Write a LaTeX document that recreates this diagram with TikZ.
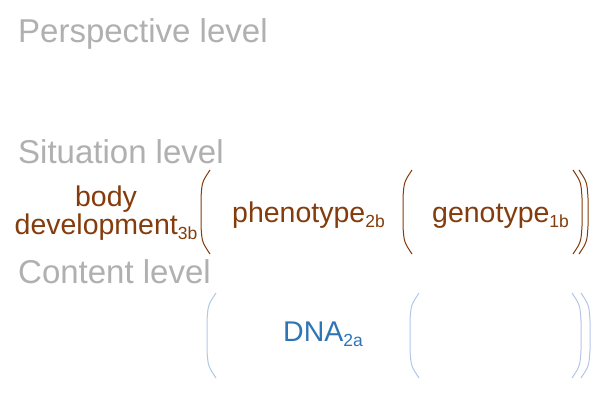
\documentclass[tikz,border=0pt]{standalone}
\usepackage{fontspec}
\setmainfont{Liberation Sans}
\definecolor{lvlgray}{HTML}{B0B0B0}
\definecolor{brn}{HTML}{843C0C}
\definecolor{blu}{HTML}{2E75B6}
\definecolor{lblu}{HTML}{B4C7E7}
\newcommand\sbs[1]{\raisebox{-5.5pt}{\fontsize{17.5pt}{17.5pt}\selectfont #1}}
\newcommand\lpar[4]{\draw[#4] ({#1+9},#2) .. controls ({#1+1},{#2+12}) .. ({#1},{#2+28}) -- ({#1},{#3-28}) .. controls ({#1+1},{#3-12}) .. ({#1+9},#3);}
\newcommand\rpar[4]{\draw[#4] ({#1-9},#2) .. controls ({#1-1},{#2+12}) .. ({#1},{#2+28}) -- ({#1},{#3-28}) .. controls ({#1-1},{#3-12}) .. ({#1-9},#3);}
\tikzset{
  lvl/.style={anchor=base west, inner sep=0pt, text=lvlgray, font=\fontsize{33pt}{36pt}\selectfont},
  term/.style={inner sep=0pt, font=\fontsize{28.5pt}{28pt}\selectfont},
  bpar/.style={draw=brn, line width=1pt},
  lpar/.style={draw=lblu, line width=1pt}
}
\begin{document}
\begin{tikzpicture}[x=1pt,y=-1pt]
\useasboundingbox[fill=white] (0,0) rectangle (600,400);
\node[lvl] (persp) at (18,42) {Perspective level};
\node[lvl] (sit) at (18,163) {Situation level};
\node[lvl] (cont) at (18,283) {Content level};
\node[term, text=brn, align=center, anchor=center] (body) at (106,213) {body\\development\sbs{3b}};
\node[term, text=brn, anchor=base west] (pheno) at (232,222) {phenotype\sbs{2b}};
\node[term, text=brn, anchor=base west] (geno) at (432,222) {genotype\sbs{1b}};
\node[term, text=blu, anchor=base west] (dna) at (283,341) {DNA\sbs{2a}};
\lpar{201}{170}{254}{bpar}
\lpar{403}{170}{254}{bpar}
\rpar{582}{170}{254}{bpar}
\rpar{588}{170}{254}{bpar}
\lpar{207}{293}{378}{lpar}
\lpar{410}{293}{378}{lpar}
\rpar{581}{293}{378}{lpar}
\rpar{590}{293}{378}{lpar}
\end{tikzpicture}
\end{document}
